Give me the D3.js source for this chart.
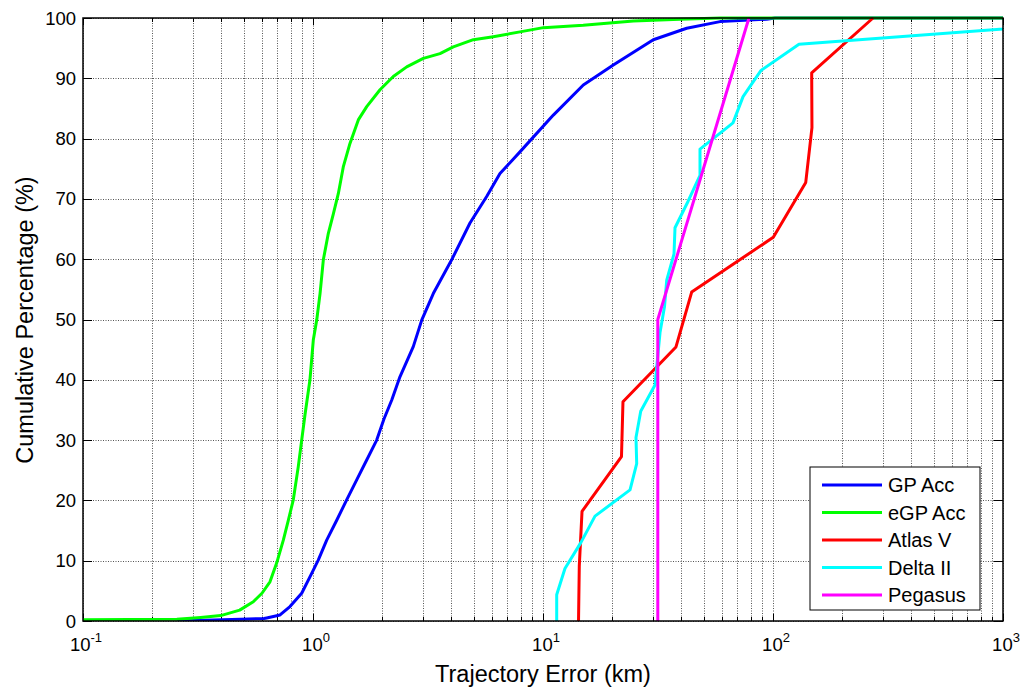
<!DOCTYPE html>
<html>
<head>
<meta charset="utf-8">
<script src="https://cdn.jsdelivr.net/npm/d3@7"></script>
<style>
  body { margin: 0; background: #fff; }
  text { font-family: "Liberation Sans", Arial, sans-serif; }
</style>
</head>
<body>
<script>
// cumulative curves: [error km, cumulative %]
var gpAcc = [[0.257, 0], [0.485, 0.3], [0.612, 0.4], [0.629, 0.5], [0.719, 1.0], [0.794, 2.4],
  [0.893, 4.6], [0.987, 7.9], [1.054, 10.1], [1.147, 13.4], [1.268, 16.7], [1.401, 20.1],
  [1.549, 23.4], [1.712, 26.7], [1.892, 30], [2.035, 33.5], [2.198, 36.6], [2.388, 40.5],
  [2.729, 45.5], [2.97, 49.9], [3.334, 54.3], [4.008, 59.9], [4.815, 66], [5.69, 70.4],
  [6.5, 74.2], [7.94, 77.8], [11.09, 83.9], [14.97, 88.9], [20.21, 92.2], [30.17, 96.4],
  [42.15, 98.3], [58.84, 99.4], [93.9, 99.8], [102, 100], [1000, 100]];

var egpAcc = [[0.1, 0.2], [0.256, 0.3], [0.325, 0.6], [0.397, 0.9], [0.48, 1.8], [0.55, 3.2],
  [0.60, 4.6], [0.65, 6.5], [0.695, 9.6], [0.743, 13.4], [0.781, 16.7], [0.821, 20.1],
  [0.863, 25.6], [0.893, 30], [0.923, 34.2], [0.97, 40], [1.003, 46.6], [1.038, 49.9],
  [1.073, 54.3], [1.109, 59.9], [1.166, 64.3], [1.226, 67.5], [1.289, 70.9], [1.354, 75.3],
  [1.448, 79.2], [1.574, 83.1], [1.712, 85.3], [1.956, 88.1], [2.234, 90.3], [2.555, 91.9],
  [3.017, 93.3], [3.566, 94.1], [4.074, 95.2], [4.98, 96.4], [6.08, 96.9], [7.94, 97.7],
  [10.03, 98.4], [14.96, 98.8], [24.7, 99.5], [39.4, 99.8], [58.9, 100], [1000, 100]];

var atlasV = [[14.27, 0], [14.38, 9.09], [14.78, 18.18], [21.94, 27.27], [22.27, 36.36],
  [37.86, 45.45], [44.3, 54.55], [100.3, 63.64], [138.8, 72.73], [147.7, 81.82],
  [147.3, 90.91], [272.2, 100]];

var deltaII = [[11.47, 0], [11.47, 4.35], [12.46, 8.7], [14.63, 13.04], [16.83, 17.39],
  [23.9, 21.74], [25.55, 26.09], [25.37, 30.43], [26.6, 34.78], [30.69, 39.13],
  [31.47, 43.48], [32.27, 47.83], [33.76, 52.17], [34.51, 56.52], [37.12, 60.87],
  [37.49, 65.22], [42.7, 69.57], [48.15, 73.91], [48.15, 78.26], [67.0, 82.61],
  [74.1, 86.96], [88.7, 91.3], [129.7, 95.65], [4355, 100]];

var pegasus = [[31.56, 0], [31.56, 50], [78.6, 100]];

var seriesNames = ["GP Acc", "eGP Acc", "Atlas V", "Delta II", "Pegasus"];
var seriesData = [gpAcc, egpAcc, atlasV, deltaII, pegasus];
var seriesColors = ["#0000ff", "#00ff00", "#ff0000", "#00ffff", "#ff00ff"];

var xMajor = [0.1, 1, 10, 100, 1000];
var xExp = ["-1", "0", "1", "2", "3"];
var yTicks = [0, 10, 20, 30, 40, 50, 60, 70, 80, 90, 100];

var width = 1021, height = 690;
var pL = 83, pR = 1003, pT = 18, pB = 621;

var svg = d3.select('body').append('svg')
  .attr('width', width)
  .attr('height', height);

var x = d3.scaleLog().domain([0.1, 1000]).range([pL, pR]);
var y = d3.scaleLinear().domain([0, 100]).range([pB, pT]);

var xMinor = [];
xMajor.slice(0, -1).forEach(function(d) {
  for (var k = 2; k <= 9; k++) xMinor.push(d * k);
});

// grid
var grid = svg.append('g').attr('class', 'grid')
  .attr('stroke', '#555').attr('stroke-width', 1).attr('stroke-dasharray', '1,1.5');
grid.selectAll('.gx').data(xMajor.concat(xMinor)).enter().append('line')
  .attr('x1', function(d) { return Math.round(x(d)) + 0.5; })
  .attr('x2', function(d) { return Math.round(x(d)) + 0.5; })
  .attr('y1', pT).attr('y2', pB);
grid.selectAll('.gy').data(yTicks).enter().append('line')
  .attr('y1', function(d) { return Math.round(y(d)) + 0.5; })
  .attr('y2', function(d) { return Math.round(y(d)) + 0.5; })
  .attr('x1', pL).attr('x2', pR);

// ticks (inside, on all four sides)
var ticks = svg.append('g').attr('stroke', '#000').attr('stroke-width', 1);
function xTick(vals, len) {
  vals.forEach(function(d) {
    var px = Math.round(x(d)) + 0.5;
    ticks.append('line').attr('x1', px).attr('x2', px).attr('y1', pB).attr('y2', pB - len);
    ticks.append('line').attr('x1', px).attr('x2', px).attr('y1', pT).attr('y2', pT + len);
  });
}
xTick(xMajor, 7);
xTick(xMinor, 4);
yTicks.forEach(function(d) {
  var py = Math.round(y(d)) + 0.5;
  ticks.append('line').attr('y1', py).attr('y2', py).attr('x1', pL).attr('x2', pL + 9);
  ticks.append('line').attr('y1', py).attr('y2', py).attr('x1', pR).attr('x2', pR - 9);
});

// curves
svg.append('clipPath').attr('id', 'plot')
  .append('rect').attr('x', pL).attr('y', pT - 2).attr('width', pR - pL).attr('height', pB - pT + 2);

var line = d3.line()
  .x(function(d) { return x(d[0]); })
  .y(function(d) { return y(d[1]); });

svg.append('g').attr('clip-path', 'url(#plot)')
  .selectAll('path').data(seriesData).enter().append('path')
  .attr('d', line)
  .attr('fill', 'none')
  .attr('stroke', function(d, i) { return seriesColors[i]; })
  .attr('stroke-width', 3)
  .attr('stroke-linejoin', 'round');

// frame
svg.append('rect').attr('x', pL).attr('y', pT)
  .attr('width', pR - pL).attr('height', pB - pT)
  .attr('fill', 'none').attr('stroke', '#000').attr('stroke-width', 1.5);

// y labels
svg.append('g').selectAll('text').data(yTicks).enter().append('text')
  .attr('x', pL - 7)
  .attr('y', function(d) { return y(d) + 6.5; })
  .attr('text-anchor', 'end')
  .attr('font-size', 18.5)
  .text(function(d) { return d; });

// x labels as 10^n
var xl = svg.append('g').selectAll('text').data(xMajor).enter().append('text')
  .attr('x', function(d) { return x(d) + 3; })
  .attr('y', 651)
  .attr('text-anchor', 'middle')
  .attr('font-size', 18.5);
xl.append('tspan').text('10');
xl.append('tspan').attr('dy', -9).attr('font-size', 13)
  .text(function(d, i) { return xExp[i]; });

// axis titles
svg.append('text')
  .attr('x', 543).attr('y', 682)
  .attr('text-anchor', 'middle').attr('font-size', 23.5)
  .text('Trajectory Error (km)');
svg.append('text')
  .attr('transform', 'translate(33,' + 320 + ') rotate(-90)')
  .attr('text-anchor', 'middle').attr('font-size', 23.5)
  .text('Cumulative Percentage (%)');

// legend
var lg = svg.append('g').attr('transform', 'translate(810,467)');
lg.append('rect').attr('width', 170).attr('height', 143)
  .attr('fill', '#fff').attr('stroke', '#000').attr('stroke-width', 1);
var row = lg.selectAll('.row').data(seriesNames).enter().append('g')
  .attr('transform', function(d, i) { return 'translate(0,' + (18 + i * 27.5) + ')'; });
row.append('line').attr('x1', 12).attr('x2', 72)
  .attr('stroke', function(d, i) { return seriesColors[i]; })
  .attr('stroke-width', 3);
row.append('text').attr('x', 78).attr('y', 7).attr('font-size', 20)
  .text(function(d) { return d; });
</script>
</body>
</html>
